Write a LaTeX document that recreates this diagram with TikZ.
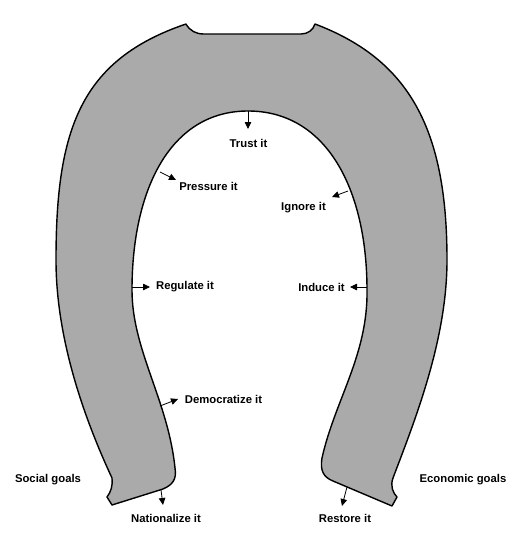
\documentclass[tikz,border=0pt]{standalone}
\usepackage{fontspec}
\setmainfont{Liberation Sans}
\usetikzlibrary{arrows.meta}
\definecolor{shoe}{RGB}{170,170,170}
\begin{document}
\begin{tikzpicture}[x=1pt,y=-1pt,
  lbl/.style={font=\fontsize{11.3}{13}\selectfont\bfseries, inner sep=0pt},
  arr/.style={line width=0.8pt, -{Triangle[length=7pt,width=6.5pt]}},
  outline/.style={fill=shoe, draw=black, line width=1.4pt, line join=round}]
\useasboundingbox[fill=white] (0,0) rectangle (509,536);

% horseshoe
\path[outline] (186,24) .. controls (190,31) and (196,34) .. (204,34) -- (301,34)
  .. controls (308,34) and (313,30) .. (315,24)
  .. controls (410,60) and (447,130) .. (447,260)
  .. controls (447,340) and (415,420) .. (393,478)
  .. controls (390,486) and (393,493) .. (397,497)
  -- (392,506) -- (333,481)
  .. controls (323,477) and (320,470) .. (322,458)
  .. controls (335,400) and (368,355) .. (367,290)
  .. controls (367,190) and (327,111) .. (248,111)
  .. controls (170,111) and (132,190) .. (132,290)
  .. controls (132,350) and (168,400) .. (175,468)
  .. controls (177,480) and (172,485) .. (163,489)
  -- (112,505) -- (107,497)
  .. controls (111,492) and (113,485) .. (112,478)
  .. controls (85,420) and (56,340) .. (56,260)
  .. controls (56,130) and (80,60) .. (186,24)
  -- cycle;

% arrow anchors on the outline
\coordinate (sTrust) at (248,111);
\coordinate (sPress) at (160,172);
\coordinate (sIgn) at (348,191);
\coordinate (sReg) at (132,287);
\coordinate (sInd) at (367,287);
\coordinate (sDem) at (160,406);
\coordinate (sNat) at (161,490);
\coordinate (sRes) at (347,487);

\coordinate (eTrust) at (248,129);
\coordinate (ePress) at (176,180);
\coordinate (eIgn) at (332,197);
\coordinate (eReg) at (150,287);
\coordinate (eInd) at (350,287);
\coordinate (eDem) at (178,399);
\coordinate (eNat) at (163,505);
\coordinate (eRes) at (342,506);

% labels
\node[lbl] (trust) at (248.5,143) {Trust it};
\node[lbl] (press) at (208.5,186) {Pressure it};
\node[lbl] (ign) at (303.5,208) {Ignore it};
\node[lbl] (reg) at (185,287) {Regulate it};
\node[lbl] (ind) at (321.5,287) {Induce it};
\node[lbl] (dem) at (223.5,399) {Democratize it};
\node[lbl] (nat) at (166,518) {Nationalize it};
\node[lbl] (res) at (345,518) {Restore it};
\node[lbl] (soc) at (48,480) {Social goals};
\node[lbl] (eco) at (463,480) {Economic goals};

% arrows
\draw[arr] (sTrust) -- (eTrust);
\draw[arr] (sPress) -- (ePress);
\draw[arr] (sIgn) -- (eIgn);
\draw[arr] (sReg) -- (eReg);
\draw[arr] (sInd) -- (eInd);
\draw[arr] (sDem) -- (eDem);
\draw[arr] (sNat) -- (eNat);
\draw[arr] (sRes) -- (eRes);
\end{tikzpicture}
\end{document}
